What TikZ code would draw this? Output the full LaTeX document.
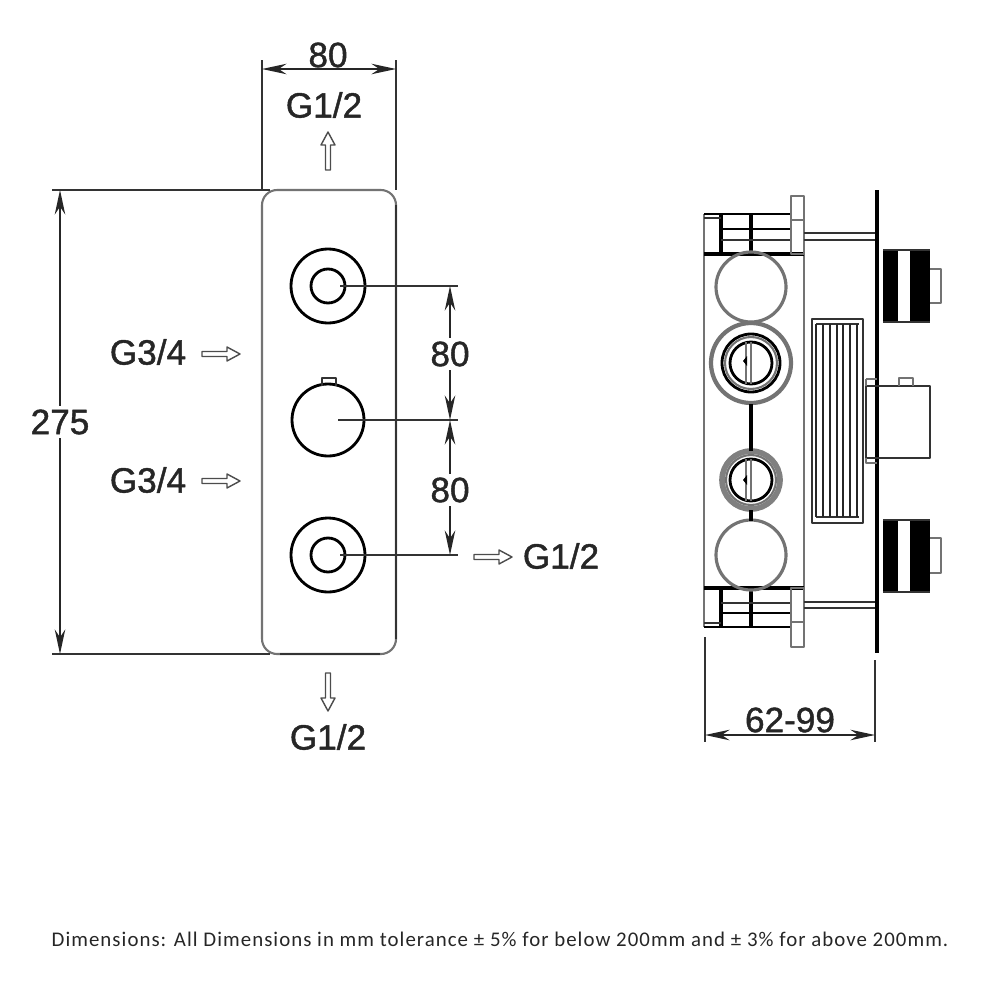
\documentclass[tikz,border=0pt]{standalone}
\usepackage{fontspec}
\setmainfont{Liberation Sans}
\newfontfamily\labelfont[FakeBold=1.2]{Liberation Sans}
\newfontfamily\notefont[LetterSpace=5]{Carlito}
\usetikzlibrary{arrows.meta}
\tikzset{
  thinline/.style={line width=0.5pt,draw=black!80},
  greyline/.style={line width=0.6pt,draw=black!55},
  thickline/.style={line width=0.8pt,draw=black},
  heavyline/.style={line width=1.1pt,draw=black},
  dimline/.style={line width=0.45pt,draw=black!85,{Stealth[length=7pt,width=3pt]}-{Stealth[length=7pt,width=3pt]}},
  biglabel/.style={font=\labelfont\fontsize{10}{12}\selectfont,text=black!85,inner sep=0pt},
  flowarrow/.pic={\draw[line width=0.4pt,draw=black!70,fill=white] (-19,-2.5)--(6,-2.5)--(6,-7)--(19,0)--(6,7)--(6,2.5)--(-19,2.5)--cycle;}
}
\begin{document}
\begin{tikzpicture}[x=0.01cm,y=-0.01cm,line join=round]
\useasboundingbox (0,0) rectangle (1000,1000);
% front view
\path (262,190) coordinate (PT) (396,190) coordinate (PR) (396,654) coordinate (PB);
\path (328,286) coordinate (KA) (328,420) coordinate (KB) (328,555) coordinate (KC);
\draw[greyline,rounded corners=4.3pt] (PT) rectangle (PB);
\draw[thinline,line width=0.8pt] (396,205)--(396,639);
\draw[thinline,line width=0.7pt] (280,654)--(380,654);
\foreach \k in {KA,KC}{
  \draw[thickline] (\k) circle (37);
  \draw[thickline] (\k) circle (17);
}
\draw[thickline] (KB) circle (36);
\draw[thinline] (322,386)--(322,378)--(336,378)--(336,386);
% dimensions
\path (262,69) coordinate (WL) (396,69) coordinate (WR) (60,190) coordinate (HT) (60,654) coordinate (HB);
\path (450,286) coordinate (DA) (450,420) coordinate (DB) (450,555) coordinate (DC);
\draw[thinline] (262,60)--(PT) (396,60)--(PR);
\draw[thinline] (52,190)--(270,190) (52,654)--(270,654);
\draw[thinline] (340,286)--(458,286) (338,420)--(458,420) (340,555)--(458,555);
\draw[dimline] (WL)--(WR);
\draw[dimline] (HT)--(HB);
\draw[dimline] (DA)--(DB);
\draw[dimline] (DB)--(DC);
\node[biglabel,fill=white,inner sep=1pt] (lblheight) at (60,422) {275};
\node[biglabel,fill=white,inner sep=1pt] (lblupper) at (450,354) {80};
\node[biglabel,fill=white,inner sep=1pt] (lbllower) at (450,490) {80};
\node[biglabel] (lblwidth) at (328,55) {80};
\node[biglabel] (lbltop) at (324,105) {G1/2};
\node[biglabel] (lblbot) at (328,737) {G1/2};
\node[biglabel] (lblcold) at (148,352) {G3/4};
\node[biglabel] (lblhot) at (148,480) {G3/4};
\node[biglabel] (lblout) at (561,556) {G1/2};
\path (328,151) pic[rotate=90] {flowarrow};
\path (328,692) pic[rotate=-90] {flowarrow};
\path (221,354) pic {flowarrow};
\path (221,481) pic {flowarrow};
\path (493,557) pic {flowarrow};
% side view, box
\draw[greyline] (704,214)--(704,627) (804,214)--(804,588);
\draw[thickline] (704,214)--(791,214) (704,627)--(791,627);
\draw[heavyline] (704,254)--(804,254) (704,588)--(804,588);
\draw[heavyline] (721,214)--(721,254) (751,214)--(751,254) (721,588)--(721,627) (751,588)--(751,627);
\draw[thickline] (721,229)--(791,229) (721,613)--(791,613);
\draw[thinline] (721,240)--(791,240) (721,603)--(791,603) (704,218)--(721,218) (704,623)--(721,623);
\foreach \ty/\by in {196/254,588/647}{
  \draw[greyline] (791,\ty) rectangle (804,\by);
}
\draw[greyline] (791,220)--(804,220) (791,622)--(804,622);
\draw[thinline] (804,233)--(875,233) (804,240)--(875,240) (804,602)--(875,602) (804,608)--(875,608);
% side view, ports
\foreach \cy in {287,555}{
  \draw[line width=0.9pt,draw=black!55] (751,\cy) circle (35);
}
\draw[line width=1.2pt,draw=black!55] (751,363) circle (40);
\draw[thickline] (751,363) circle (29);
\draw[greyline] (751,363) circle (26);
\draw[thickline] (751,363) circle (21);
\draw[line width=1.6pt,draw=black!50] (751,480) circle (29);
\draw[greyline] (751,480) circle (25);
\draw[thickline] (751,480) circle (21);
\draw[greyline] (746,342)--(746,384) (751,342)--(751,384) (746,459)--(746,501) (751,459)--(751,501);
\fill (743,361) -- (747,356) -- (747,366) -- cycle (743,480) -- (747,475) -- (747,485) -- cycle;
\draw[heavyline] (751,404)--(751,451) (751,510)--(751,521);
\draw[greyline] (745,320)--(745,324) (757,320)--(757,324);
% side view, cover
\draw[thinline,line width=0.7pt] (812,319) rectangle (863,523);
\draw[thinline] (816,324)--(859,324) (816,517)--(859,517);
\foreach \vx/\vw in {816/0.7,823/0.4,830/0.4,837/0.7,843/0.7,850/0.4,857/0.5}{
  \draw[line width=\vw pt,draw=black!85] (\vx,324)--(\vx,517);
}
% side view, plate and knobs
\draw[line width=1.3pt,draw=black] (877,190)--(877,653);
\foreach \ky/\sa/\sb in {250/269/303,520/538/573}{
  \pgfmathsetmacro\kb{\ky+72}
  \fill (883,\ky) rectangle (898,\kb);
  \fill (910,\ky) rectangle (930,\kb);
  \draw[thinline] (883,\ky)--(930,\ky) (883,\kb)--(930,\kb);
  \draw[greyline] (930,\sa)--(941,\sa)--(941,\sb)--(930,\sb);
}
\draw[thinline,line width=0.7pt] (877,386)--(930,386)--(930,458)--(866,458)--(866,386)--(877,386);
\draw[greyline] (866,379)--(877,379) (866,386)--(866,379) (866,458)--(866,463)--(877,463);
\draw[greyline] (899,386)--(899,378)--(913,378)--(913,386);
% depth dimension
\path (705,735) coordinate (DPL) (875,735) coordinate (DPR);
\draw[thinline] (705,637)--(705,742) (875,660)--(875,742);
\draw[dimline] (DPL)--(DPR);
\node[biglabel] (lbldepth) at (790,720) {62-99};
\node[font=\notefont\fontsize{5.93}{7}\selectfont,text=black!85,inner sep=0pt] (note) at (500,939) {Dimensions: All Dimensions in mm tolerance ± 5\% for below 200mm and ± 3\% for above 200mm.};
\end{tikzpicture}
\end{document}
